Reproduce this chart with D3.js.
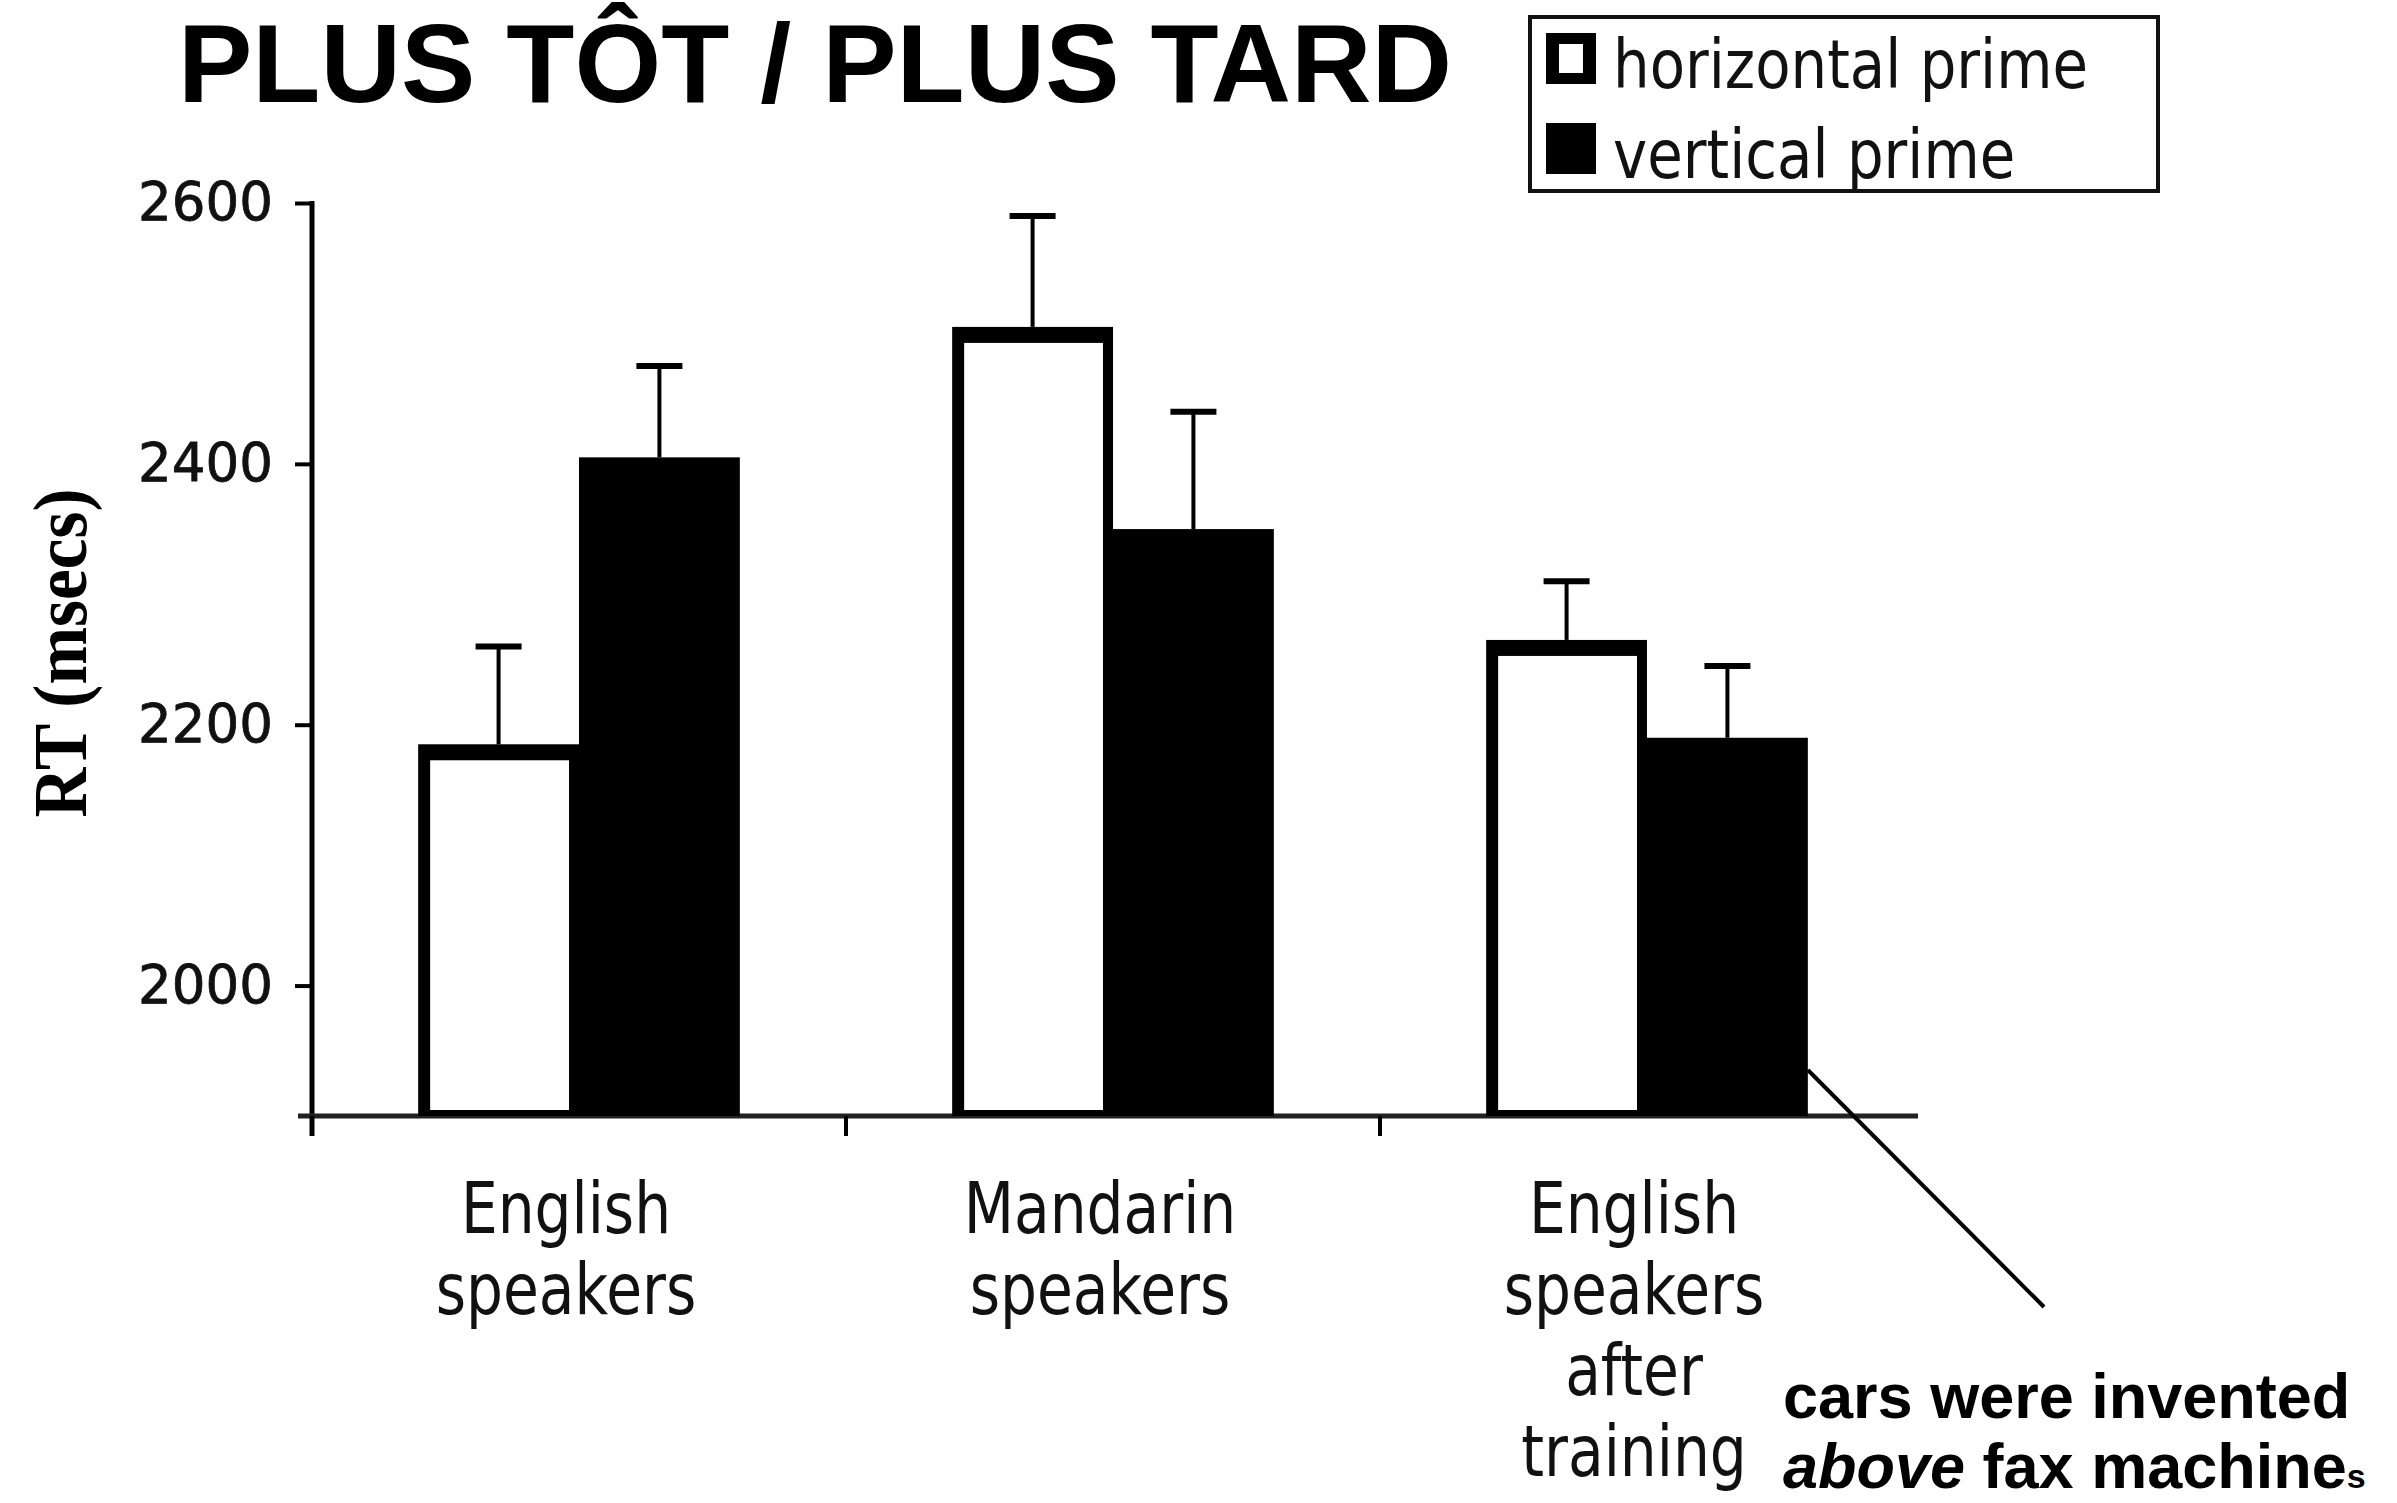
<!DOCTYPE html>
<html>
<head>
<meta charset="utf-8">
<script src="https://d3js.org/d3.v7.min.js"></script>
<style>
    html, body { margin: 0; padding: 0; background: #fff; }
    svg { display: block; }
</style>
</head>
<body>
<svg id="chart" width="2397" height="1503"></svg>
<script type="text/javascript">
    // values (msecs)
    var categories = ["English speakers", "Mandarin speakers", "English speakers after training"];
    var categoryLines = [["English", "speakers"], ["Mandarin", "speakers"], ["English", "speakers", "after", "training"]];
    var seriesNames = ["horizontal prime", "vertical prime"];
    var horizontalRT = [2185, 2505, 2265];
    var verticalRT = [2405, 2350, 2190];
    var horizontalErr = [75, 85, 45];
    var verticalErr = [70, 90, 55];
    var yTicks = [2000, 2200, 2400, 2600];

    var svg = d3.select("#chart");

    var x = d3.scaleBand().domain(categories).range([312, 1914]);
    var xInner = d3.scaleBand().domain(seriesNames).range([0, x.bandwidth()]).paddingOuter(0.66);
    var y = d3.scaleLinear().domain([1900, 2600]).range([1116, 203]);

    var rows = categories.map((c, i) => {
        return {
            cat: c,
            bars: [
                { s: seriesNames[0], v: horizontalRT[i], e: horizontalErr[i] },
                { s: seriesNames[1], v: verticalRT[i], e: verticalErr[i] }
            ]
        };
    });

    // squeeze text horizontally like the scanned figure
    function squeeze(sel, k) {
        sel.each(function() {
            var len = this.getComputedTextLength();
            d3.select(this).attr("textLength", len * k).attr("lengthAdjust", "spacingAndGlyphs");
        });
    }

    // title
    svg.append("text")
        .attr("x", 178)
        .attr("y", 102)
        .attr("font-family", "'Liberation Sans', Arial, sans-serif")
        .attr("font-weight", "bold")
        .attr("font-size", 112)
        .attr("textLength", 1274)
        .attr("lengthAdjust", "spacingAndGlyphs")
        .text("PLUS TÔT / PLUS TARD");

    // y axis
    var yAxis = svg.append("g")
        .attr("transform", "translate(312,0)")
        .call(d3.axisLeft(y).tickValues(yTicks).tickSize(17).tickSizeOuter(0).tickPadding(22).tickFormat(d3.format("d")));
    yAxis.select(".domain").remove();
    yAxis.selectAll(".tick line").attr("stroke", "#000").attr("stroke-width", 4);
    yAxis.selectAll(".tick text")
        .attr("font-family", "'DejaVu Sans', Verdana, sans-serif")
        .attr("font-size", 53)
        .attr("fill", "#111")
        .attr("stroke", "#111")
        .attr("stroke-width", 0.8);

    svg.append("line")
        .attr("x1", 312).attr("x2", 312)
        .attr("y1", y(2600) - 2).attr("y2", 1136)
        .attr("stroke", "#000").attr("stroke-width", 5);

    svg.append("text")
        .attr("transform", "translate(86," + 653 + ") rotate(-90)")
        .attr("text-anchor", "middle")
        .attr("font-family", "'Liberation Serif', 'Times New Roman', serif")
        .attr("font-weight", "bold")
        .attr("font-size", 76)
        .attr("textLength", 329)
        .attr("lengthAdjust", "spacingAndGlyphs")
        .text("RT (msecs)");

    // x axis
    svg.append("line")
        .attr("x1", 298).attr("x2", 1918)
        .attr("y1", 1116).attr("y2", 1116)
        .attr("stroke", "#222").attr("stroke-width", 5);

    svg.selectAll(".xtick")
        .data(categories)
        .enter()
        .append("line")
        .attr("class", "xtick")
        .attr("x1", d => x(d)).attr("x2", d => x(d))
        .attr("y1", 1116).attr("y2", 1136)
        .attr("stroke", "#000").attr("stroke-width", 4);

    var labels = svg.selectAll(".cat")
        .data(categories)
        .enter()
        .append("text")
        .attr("class", "cat")
        .attr("text-anchor", "middle")
        .attr("font-family", "'DejaVu Sans', Verdana, sans-serif")
        .attr("font-size", 71)
        .attr("fill", "#111");

    labels.selectAll("tspan")
        .data((d, i) => categoryLines[i].map(t => ({ t: t, c: d })))
        .enter()
        .append("tspan")
        .attr("x", d => x(d.c) + x.bandwidth() / 2 - 13)
        .attr("y", (d, j) => 1233 + j * 81)
        .text(d => d.t);
    squeeze(labels.selectAll("tspan"), 0.82);

    // bars
    var g = svg.selectAll(".group")
        .data(rows)
        .enter()
        .append("g")
        .attr("class", "group")
        .attr("transform", d => "translate(" + x(d.cat) + ",0)");

    // error bars (upper only)
    var err = g.selectAll(".err")
        .data(d => d.bars)
        .enter()
        .append("g")
        .attr("class", "err");
    err.append("line")
        .attr("x1", d => xInner(d.s) + xInner.bandwidth() / 2)
        .attr("x2", d => xInner(d.s) + xInner.bandwidth() / 2)
        .attr("y1", d => y(d.v))
        .attr("y2", d => y(d.v + d.e))
        .attr("stroke", "#000").attr("stroke-width", 4);
    err.append("line")
        .attr("x1", d => xInner(d.s) + xInner.bandwidth() / 2 - 23)
        .attr("x2", d => xInner(d.s) + xInner.bandwidth() / 2 + 23)
        .attr("y1", d => y(d.v + d.e))
        .attr("y2", d => y(d.v + d.e))
        .attr("stroke", "#000").attr("stroke-width", 6);

    var bars = g.selectAll(".bar")
        .data(d => d.bars)
        .enter()
        .append("g")
        .attr("class", "bar");

    bars.append("rect")
        .attr("x", d => xInner(d.s))
        .attr("y", d => y(d.v))
        .attr("width", xInner.bandwidth())
        .attr("height", d => y(1900) - y(d.v))
        .attr("fill", "#000");

    // white inside for horizontal prime
    bars.filter(d => d.s === seriesNames[0])
        .append("rect")
        .attr("x", d => xInner(d.s) + 12)
        .attr("y", d => y(d.v) + 16)
        .attr("width", xInner.bandwidth() - 22)
        .attr("height", d => y(1900) - y(d.v) - 22)
        .attr("fill", "#fff");

    // legend
    var legend = svg.append("g");
    legend.append("rect")
        .attr("x", 1530).attr("y", 17)
        .attr("width", 628).attr("height", 174)
        .attr("fill", "#fff").attr("stroke", "#111").attr("stroke-width", 4);

    var item = legend.selectAll(".item")
        .data(seriesNames)
        .enter()
        .append("g")
        .attr("class", "item")
        .attr("transform", (d, i) => "translate(1546," + (33 + i * 90) + ")");
    item.append("rect")
        .attr("width", 50).attr("height", 51)
        .attr("fill", "#000");
    item.filter((d, i) => i === 0)
        .append("rect")
        .attr("x", 13).attr("y", 11)
        .attr("width", 24).attr("height", 29)
        .attr("fill", "#fff");
    var legendText = item.append("text")
        .attr("x", 67)
        .attr("y", 55)
        .attr("font-family", "'DejaVu Sans', Verdana, sans-serif")
        .attr("font-size", 68)
        .attr("fill", "#111")
        .text(d => d);
    squeeze(legendText, 0.85);

    // annotation
    svg.append("line")
        .attr("x1", x(categories[2]) + xInner(seriesNames[1]) + xInner.bandwidth())
        .attr("y1", 1070)
        .attr("x2", 2044)
        .attr("y2", 1307)
        .attr("stroke", "#000").attr("stroke-width", 4);

    var note = svg.append("text")
        .attr("font-family", "'Liberation Sans', Arial, sans-serif")
        .attr("font-weight", "bold")
        .attr("font-size", 63);
    note.append("tspan").attr("x", 1783).attr("y", 1418).text("cars were invented");
    note.append("tspan").attr("x", 1783).attr("y", 1488).attr("font-style", "italic").text("above");
    note.append("tspan").text(" fax machine");
    note.append("tspan").attr("font-size", 34).text("s");
</script>
</body>
</html>
